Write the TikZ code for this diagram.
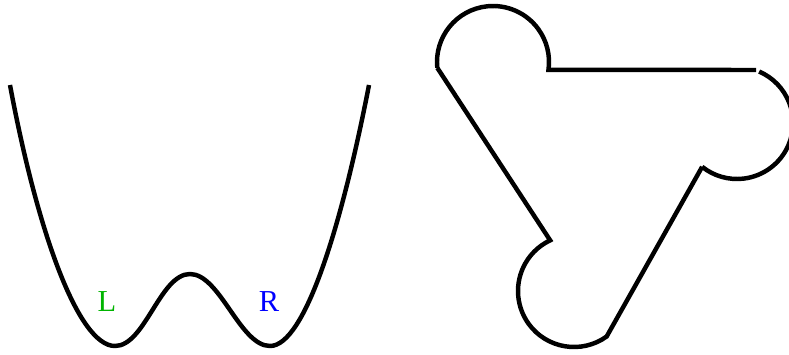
\documentclass[tikz,border=0pt]{standalone}
\usepackage{fontspec}
\setmainfont{Liberation Serif}
\usepackage{xcolor}
\usepackage{tikz}
\usetikzlibrary{calc}
\definecolor{WellGreen}{HTML}{00B400}
\definecolor{WellBlue}{HTML}{0000FF}

\begin{document}
\begin{tikzpicture}[x=0.03cm,y=0.03cm,line width=3.8pt,
  lbl/.style={inner sep=0pt,font=\fontsize{26}{26}\selectfont}]
\useasboundingbox (0,0) rectangle (789,354);
% double well
\draw (10,269) .. controls (37,124) and (78,8) .. (115,8)
  .. controls (145,8) and (160,80) .. (190,80)
  .. controls (220,80) and (240,8) .. (270,8)
  .. controls (305,8) and (342,130) .. (369,269);
\node[lbl,text=WellGreen] (L) at (107,52) {L};
\node[lbl,text=WellBlue] (R) at (269,52) {R};
% loop with three lobes
\coordinate (c1) at (493,292);
\coordinate (c2) at (737,231);
\coordinate (c3) at (574,63);
\draw ($(c1)+(186:56)$) coordinate (s1)
  arc[start angle=186,end angle=-8,radius=56] -- (756,284);
\draw ($(c2)+(66.7:56)$)
  arc[start angle=66.7,end angle=-128.5,radius=56] coordinate (e2);
\draw (e2) -- ($(c3)+(-54.3:56)$)
  arc[start angle=-54.3,end angle=-244.8,radius=56] -- (s1);
\end{tikzpicture}
\end{document}
